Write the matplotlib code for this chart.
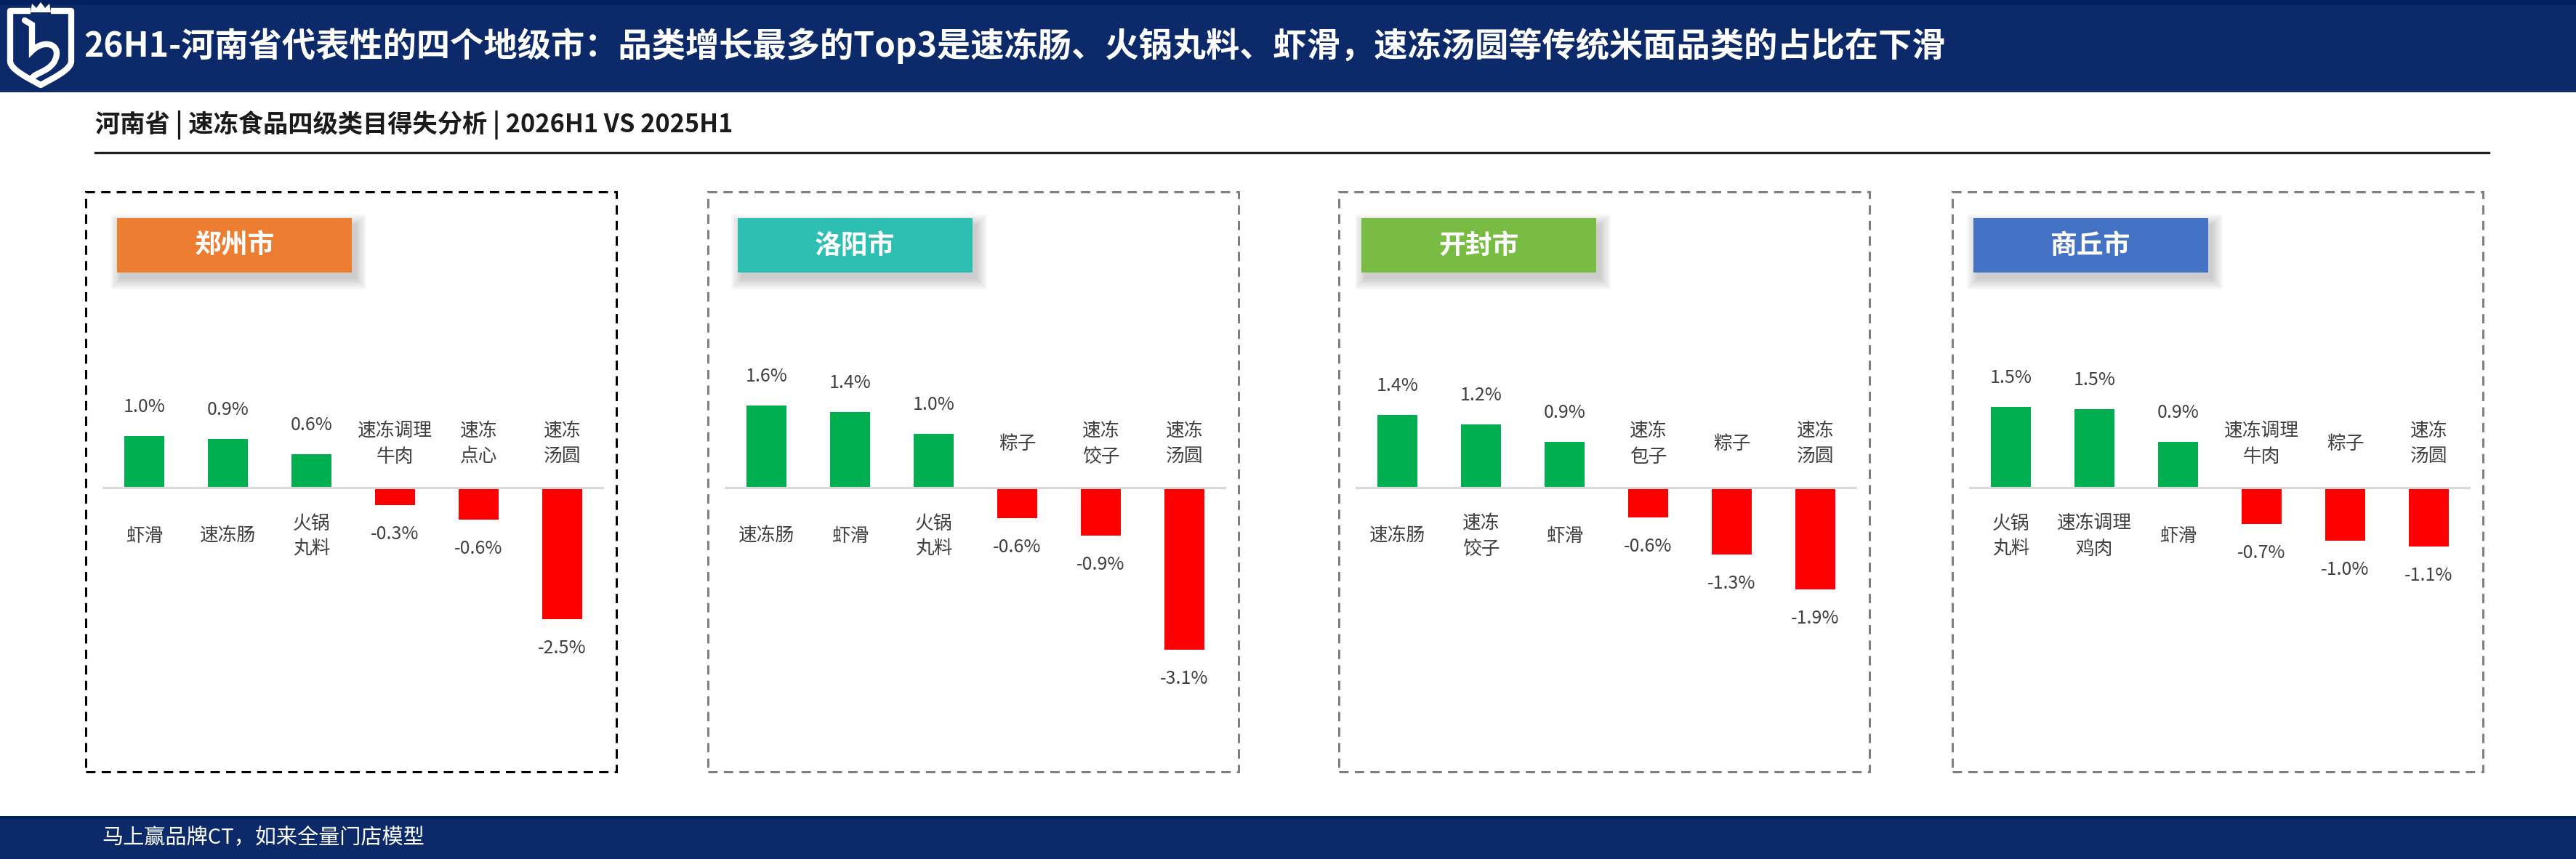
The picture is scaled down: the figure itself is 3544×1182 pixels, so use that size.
import matplotlib
matplotlib.use("Agg")
import matplotlib.pyplot as plt
from matplotlib.patches import Rectangle, Polygon, PathPatch
from matplotlib.path import Path
from matplotlib.lines import Line2D

plt.rcParams['font.family'] = ['Noto Sans CJK SC', 'DejaVu Sans']

W, H = 3544, 1182

title = "26H1-河南省代表性的四个地级市：品类增长最多的Top3是速冻肠、火锅丸料、虾滑，速冻汤圆等传统米面品类的占比在下滑"
subtitle = "河南省 | 速冻食品四级类目得失分析 | 2026H1 VS 2025H1"
footer = "马上赢品牌CT，如来全量门店模型"

cities = ["郑州市", "洛阳市", "开封市", "商丘市"]
city_colors = ["#ED7D31", "#2EBFB3", "#78BC44", "#4472C4"]

zz_cats = ["虾滑", "速冻肠", "火锅\n丸料", "速冻调理\n牛肉", "速冻\n点心", "速冻\n汤圆"]
zz_vals = [0.98, 0.93, 0.64, -0.34, -0.61, -2.51]

ly_cats = ["速冻肠", "虾滑", "火锅\n丸料", "粽子", "速冻\n饺子", "速冻\n汤圆"]
ly_vals = [1.57, 1.44, 1.03, -0.59, -0.91, -3.10]

kf_cats = ["速冻肠", "速冻\n饺子", "虾滑", "速冻\n包子", "粽子", "速冻\n汤圆"]
kf_vals = [1.39, 1.21, 0.87, -0.57, -1.28, -1.94]

sq_cats = ["火锅\n丸料", "速冻调理\n鸡肉", "虾滑", "速冻调理\n牛肉", "粽子", "速冻\n汤圆"]
sq_vals = [1.54, 1.50, 0.87, -0.70, -1.02, -1.12]

all_cats = [zz_cats, ly_cats, kf_cats, sq_cats]
all_vals = [zz_vals, ly_vals, kf_vals, sq_vals]

NAVY = "#0C2A6A"
GREEN = "#00B050"
RED = "#FF0000"
TXT = "#404040"

fig = plt.figure(figsize=(W / 100, H / 100), dpi=100)


def fx(x):
    return x / W


def fy(y):
    return 1 - y / H


def rect(x0, y0, x1, y1, **kw):
    r = Rectangle((fx(x0), fy(y1)), (x1 - x0) / W, (y1 - y0) / H,
                  transform=fig.transFigure, **kw)
    fig.add_artist(r)
    return r


# header / footer bands
rect(0, 0, W, 127, facecolor=NAVY, lw=0)
rect(0, 0, W, 7, facecolor="#002060", lw=0)
rect(0, 1123, W, H, facecolor=NAVY, lw=0)
rect(0, 1123, W, 1127, facecolor="#002060", lw=0)

# logo: shield + crown + stylised "5"
shield = Path([(fx(42), fy(15)), (fx(14), fy(15)), (fx(14), fy(84)),
               (fx(14), fy(96)), (fx(40), fy(108)), (fx(56), fy(117)),
               (fx(72), fy(108)), (fx(98), fy(96)), (fx(98), fy(84)),
               (fx(98), fy(15)), (fx(70), fy(15))],
              [Path.MOVETO, Path.LINETO, Path.LINETO,
               Path.CURVE4, Path.CURVE4, Path.CURVE4,
               Path.CURVE4, Path.CURVE4, Path.CURVE4,
               Path.LINETO, Path.LINETO])
fig.add_artist(PathPatch(shield, fill=False, edgecolor="white", lw=6,
                         joinstyle="round", transform=fig.transFigure))
crown = [(42, 17), (44, 5), (50, 11), (56, 3), (62, 11), (68, 5), (70, 17)]
fig.add_artist(Polygon([(fx(x), fy(y)) for x, y in crown], closed=True, facecolor="white",
                       lw=0, transform=fig.transFigure))
five = Path([(fx(34), fy(28)), (fx(44), fy(34)), (fx(44), fy(70)),
             (fx(62), fy(52)), (fx(88), fy(62)), (fx(74), fy(86)),
             (fx(64), fy(100)), (fx(48), fy(100)), (fx(44), fy(108))],
            [Path.MOVETO, Path.LINETO, Path.LINETO,
             Path.CURVE4, Path.CURVE4, Path.CURVE4,
             Path.CURVE4, Path.CURVE4, Path.CURVE4])
fig.add_artist(PathPatch(five, fill=False, edgecolor="white", lw=6,
                         transform=fig.transFigure, capstyle="round"))

fig.text(fx(115), fy(63), title, color="white", fontsize=33.3, fontweight="bold",
         ha="left", va="center")
fig.text(fx(131), fy(172), subtitle, color="#1A1A1A", fontsize=24.7, fontweight="bold",
         ha="left", va="center")
fig.add_artist(Line2D([fx(131), fx(3424)], [fy(210), fy(210)], lw=2.4, color="#202020",
                      transform=fig.transFigure))
fig.text(fx(140), fy(1153), footer, color="white", fontsize=21, ha="left", va="center")

# panels
panel_left = [118, 974, 1842, 2686]
label_off = [43, 41, 31, 29]
border_colors = ["#000000", "#7F7F7F", "#7F7F7F", "#7F7F7F"]
PW, PT, PB = 730, 264, 1062
BASE = 671
PX_PER_PCT = 72.0

for k in range(4):
    left = panel_left[k]
    rect(left, PT, left + PW, PB, fill=False, edgecolor=border_colors[k], lw=2.2,
         linestyle=(0, (4.2, 2.8)))

    # label box with soft shadow
    bx0, by0 = left + label_off[k], 300
    bx1, by1 = bx0 + 323, 375
    for s in range(10):
        e = s * 1.6
        rect(bx0 + 5 - e, by0 + 9 - e, bx1 + 6 + e, by1 + 9 + e,
             facecolor="black", alpha=0.02, lw=0)
    rect(bx0, by0, bx1, by1, facecolor=city_colors[k], lw=0)
    fig.text(fx((bx0 + bx1) / 2), fy((by0 + by1) / 2 + 1), cities[k], color="white",
             fontsize=26.5, fontweight="bold", ha="center", va="center")

    ax = fig.add_axes([fx(left + 23), fy(PB), 690 / W, (PB - PT) / H])
    ax.set_xlim(-0.5, 5.5)
    ax.set_ylim(-(PB - BASE) / PX_PER_PCT, (BASE - PT) / PX_PER_PCT)
    ax.axis("off")

    vals = all_vals[k]
    cats = all_cats[k]
    ax.bar(range(len(vals)), vals, width=0.48,
           color=[GREEN if v > 0 else RED for v in vals], zorder=2)
    ax.axhline(0, color="#D9D9D9", lw=2.2, zorder=3)

    for i, (c, v) in enumerate(zip(cats, vals)):
        sign = 1 if v > 0 else -1
        ax.annotate(f"{v:.1f}%", (i, v), xytext=(0, sign * 40 * 0.72),
                    textcoords="offset points", ha="center", va="center",
                    fontsize=18, color=TXT)
        off = -67 if v > 0 else 60
        ax.annotate(c, (i, 0), xytext=(0, off * 0.72), textcoords="offset points",
                    ha="center", va="center", fontsize=18.5, color=TXT, linespacing=1.45)

fig.savefig("out.png", dpi=100)
